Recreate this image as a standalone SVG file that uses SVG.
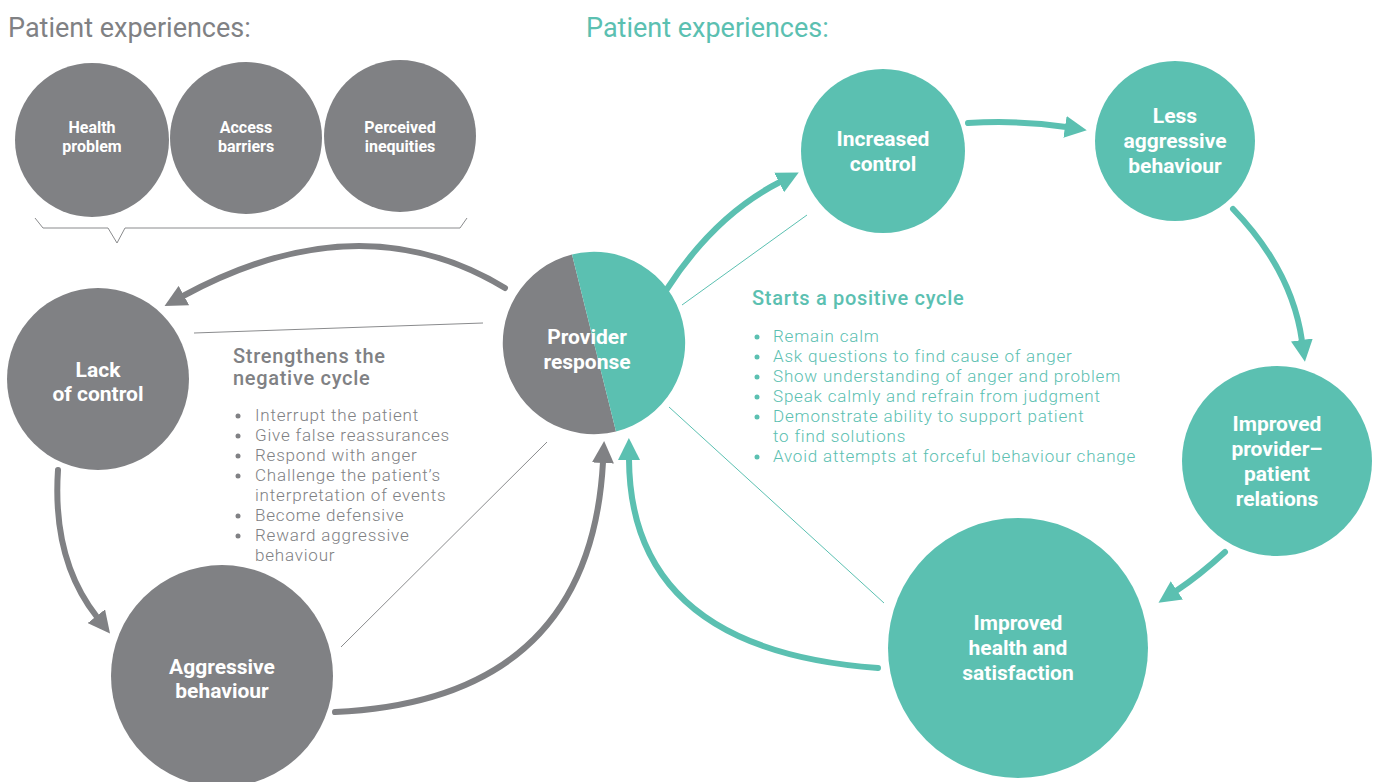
<svg xmlns="http://www.w3.org/2000/svg" width="1377" height="782" viewBox="0 0 1377 782">
<defs>
<style>
.g{fill:#808184}
.t{fill:#5bc0b1}
.lbl{font-family:Roboto,"Liberation Sans",sans-serif;font-weight:bold;fill:#fff;text-anchor:middle}
.s16{font-size:16px}
.s21{font-size:21px}
.title{font-family:Roboto,"Liberation Sans",sans-serif;font-size:27px;font-weight:400}
.head{font-family:Roboto,"Liberation Sans",sans-serif;font-size:20px;font-weight:500;letter-spacing:0.7px}
.li{font-family:Roboto,"Liberation Sans",sans-serif;font-size:17px;font-weight:300;letter-spacing:0.8px}
.ga{fill:none;stroke:#808184;stroke-width:6;stroke-linecap:round}
.ta{fill:none;stroke:#5bc0b1;stroke-width:6;stroke-linecap:round}
.gl{fill:none;stroke:#8a8b8d;stroke-width:1}
.tl{fill:none;stroke:#5bc0b1;stroke-width:1}
</style>
<marker id="ag" markerUnits="userSpaceOnUse" markerWidth="22" markerHeight="22" viewBox="0 0 22 22" refX="1" refY="11" orient="auto"><path d="M0,0 L22,11 L0,22 z" fill="#808184"/></marker>
<marker id="at" markerUnits="userSpaceOnUse" markerWidth="22" markerHeight="22" viewBox="0 0 22 22" refX="1" refY="11" orient="auto"><path d="M0,0 L22,11 L0,22 z" fill="#5bc0b1"/></marker>
</defs>
<rect width="1377" height="782" fill="#fff"/>

<text class="title g" x="8" y="37">Patient experiences:</text>
<text class="title t" x="586" y="37">Patient experiences:</text>

<g id="health-problem"><circle class="g" cx="92" cy="140" r="77"/><text class="lbl s16" x="92" y="133">Health</text><text class="lbl s16" x="92" y="152">problem</text></g>
<g id="access-barriers"><circle class="g" cx="246" cy="138" r="76"/><text class="lbl s16" x="246" y="133">Access</text><text class="lbl s16" x="246" y="152">barriers</text></g>
<g id="perceived-inequities"><circle class="g" cx="400" cy="136" r="76"/><text class="lbl s16" x="400" y="133">Perceived</text><text class="lbl s16" x="400" y="152">inequities</text></g>
<g id="brace"><path class="gl" d="M35,218 L43,228 L108,228 L117,243 L125,228 L460,228 L467,218"/></g>

<g id="lack-of-control"><circle class="g" cx="98" cy="379" r="91"/><text class="lbl s21" x="98" y="377">Lack</text><text class="lbl s21" x="98" y="401">of control</text></g>
<g id="aggressive-behaviour"><circle class="g" cx="222" cy="676" r="111"/><text class="lbl s21" x="222" y="674">Aggressive</text><text class="lbl s21" x="222" y="698">behaviour</text></g>
<g id="provider-response"><path class="g" d="M572,254.5 A91,91 0 1 0 616,431.5 Z"/><path class="t" d="M572,254.5 A91,91 0 0 1 616,431.5 Z"/><text class="lbl s21" x="587" y="344">Provider</text><text class="lbl s21" x="587" y="369">response</text></g>
<g id="increased-control"><circle class="t" cx="883" cy="151" r="82"/><text class="lbl s21" x="883" y="146">Increased</text><text class="lbl s21" x="883" y="171">control</text></g>
<g id="less-aggressive"><circle class="t" cx="1175" cy="141" r="80"/><text class="lbl s21" x="1175" y="123">Less</text><text class="lbl s21" x="1175" y="148">aggressive</text><text class="lbl s21" x="1175" y="173">behaviour</text></g>
<g id="improved-relations"><circle class="t" cx="1277" cy="461" r="95"/><text class="lbl s21" x="1277" y="431">Improved</text><text class="lbl s21" x="1277" y="456">provider–</text><text class="lbl s21" x="1277" y="481">patient</text><text class="lbl s21" x="1277" y="506">relations</text></g>
<g id="improved-health"><circle class="t" cx="1018" cy="648" r="130"/><text class="lbl s21" x="1018" y="630">Improved</text><text class="lbl s21" x="1018" y="655">health and</text><text class="lbl s21" x="1018" y="680">satisfaction</text></g>

<g id="connectors">
<path class="ga" d="M505,288 Q360,200 183,296" marker-end="url(#ag)"/>
<path class="ga" d="M58,470 Q52,560 97,617" marker-end="url(#ag)"/>
<path class="ga" d="M335,712 Q590,700 603,462" marker-end="url(#ag)"/>
<path class="ta" d="M667,289 Q715,215 780,182" marker-end="url(#at)"/>
<path class="ta" d="M968,123 Q1020,120 1066,127" marker-end="url(#at)"/>
<path class="ta" d="M1233,209 Q1292,270 1302,341" marker-end="url(#at)"/>
<path class="ta" d="M1225,552 Q1200,575 1176,591" marker-end="url(#at)"/>
<path class="ta" d="M878,668 Q630,650 629,459" marker-end="url(#at)"/>
<path class="gl" d="M194,333 L483,323"/>
<path class="gl" d="M341,647 L547,442"/>
<path class="tl" d="M682,305 L807,215"/>
<path class="tl" d="M669,407 L884,603"/>
</g>

<g id="negative-notes">
<text class="head g" x="233" y="363">Strengthens the</text>
<text class="head g" x="233" y="385">negative cycle</text>
<g class="g"><circle cx="238" cy="416" r="2.5"/><circle cx="238" cy="436" r="2.5"/><circle cx="238" cy="456" r="2.5"/><circle cx="238" cy="476" r="2.5"/><circle cx="238" cy="516" r="2.5"/><circle cx="238" cy="536" r="2.5"/></g>
<text class="li g" x="255" y="421">Interrupt the patient</text>
<text class="li g" x="255" y="441">Give false reassurances</text>
<text class="li g" x="255" y="461">Respond with anger</text>
<text class="li g" x="255" y="481">Challenge the patient’s</text>
<text class="li g" x="255" y="501">interpretation of events</text>
<text class="li g" x="255" y="521">Become defensive</text>
<text class="li g" x="255" y="541">Reward aggressive</text>
<text class="li g" x="255" y="561">behaviour</text>
</g>

<g id="positive-notes">
<text class="head t" x="752" y="305">Starts a positive cycle</text>
<g class="t"><circle cx="757" cy="337" r="2.5"/><circle cx="757" cy="357" r="2.5"/><circle cx="757" cy="377" r="2.5"/><circle cx="757" cy="397" r="2.5"/><circle cx="757" cy="417" r="2.5"/><circle cx="757" cy="457" r="2.5"/></g>
<text class="li t" x="773" y="342">Remain calm</text>
<text class="li t" x="773" y="362">Ask questions to find cause of anger</text>
<text class="li t" x="773" y="382">Show understanding of anger and problem</text>
<text class="li t" x="773" y="402">Speak calmly and refrain from judgment</text>
<text class="li t" x="773" y="422">Demonstrate ability to support patient</text>
<text class="li t" x="773" y="442">to find solutions</text>
<text class="li t" x="773" y="462">Avoid attempts at forceful behaviour change</text>
</g>
</svg>
